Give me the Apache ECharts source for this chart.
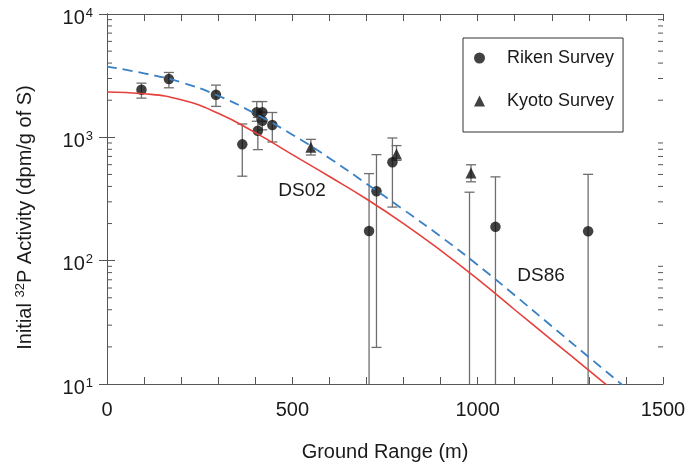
<!DOCTYPE html>
<html>
<head>
<meta charset="utf-8">
<script src="https://cdn.jsdelivr.net/npm/echarts@6/dist/echarts.min.js"></script>
<style>
  html, body { margin: 0; padding: 0; background: #fff; }
  #chart { width: 690px; height: 467px; }
</style>
</head>
<body>
<div id="chart"></div>
<script>
// Riken survey: ground range (m), initial 32P activity and error limits (dpm/g of S).
// A low limit of 0 means the bar runs off the bottom of the log axis;
// a null activity is a measurement below the plotted range.
const rikenRange    = [93, 167, 294, 365, 404, 407, 419, 419, 446, 707, 727, 770, 978, 1048, 1298];
const rikenActivity = [2430, 2965, 2213, 877, 1600, 1130, 1600, 1364, 1259, 174, 366, 628, null, 188, 173];
const rikenLow      = [2080, 2521, 1782, 484, 1350, 795, 1350, 1150, 917, 0, 19.8, 272, 0, 0, 0];
const rikenHigh     = [2750, 3357, 2650, 1283, 1950, 1450, 1950, 1600, 1590, 508, 724, 988, 359, 478, 501];

// Kyoto survey
const kyotoRange    = [550, 781, 982];
const kyotoActivity = [830, 733, 515];
const kyotoLow      = [719, 650, 436];
const kyotoHigh     = [963, 857, 599];

// Calculated activity versus ground range for the two dosimetry systems
const modelRange = [0, 100, 200, 300, 400, 500, 600, 700, 800, 900, 1000, 1100, 1200, 1300, 1400];
const ds02 = [2328, 2255, 2017, 1568, 1091, 724, 481, 316, 200, 121, 70.7, 40.0, 22.7, 12.9, 7.3];
const ds86 = [3749, 3303, 2794, 2173, 1554, 1051, 678, 421, 259, 157, 92.2, 52.4, 29.4, 16.5, 9.3];

// Axis labels
const xLabelValues = [0, 500, 1000, 1500];
const yDecades     = [10, 100, 1000, 10000];
const yExponents   = ['1', '2', '3', '4'];

const FONT = '"Liberation Sans", Arial, Helvetica, sans-serif';
const INK = '#1a1a1a';
const FRAME = '#555';
const BAR = '#6e6e6e';

// unlabelled log-axis minor ticks (2..9 in each decade)
const minorTicks = [];
for (let d = 10; d < 10000; d *= 10) {
  for (let k = 2; k <= 9; k++) minorTicks.push(k * d);
}

const errorData = rikenRange.map((x, i) => [x, rikenLow[i], rikenHigh[i]])
  .concat(kyotoRange.map((x, i) => [x, kyotoLow[i], kyotoHigh[i]]));

function renderErrorBar(params, api) {
  const cs = params.coordSys;
  const bottom = cs.y + cs.height;
  const x = api.value(0);
  const lo = api.value(1);
  const hi = api.value(2);
  const top = api.coord([x, hi]);
  let yLo;
  let capLo = true;
  if (!(lo > 0)) { yLo = bottom; capLo = false; }
  else {
    yLo = api.coord([x, lo])[1];
    if (yLo > bottom) { yLo = bottom; capLo = false; }
  }
  const px = top[0];
  const yHi = Math.max(top[1], cs.y);
  const half = 5;
  const style = { stroke: BAR, lineWidth: 1.3 };
  const children = [
    { type: 'line', shape: { x1: px, y1: yHi, x2: px, y2: yLo }, style }
  ];
  children.push({ type: 'line', shape: { x1: px - half, y1: yHi, x2: px + half, y2: yHi }, style });
  if (capLo) children.push({ type: 'line', shape: { x1: px - half, y1: yLo, x2: px + half, y2: yLo }, style });
  return { type: 'group', children };
}

function renderMinorTick(params, api) {
  const cs = params.coordSys;
  const y = api.coord([0, api.value(0)])[1];
  const style = { stroke: FRAME, lineWidth: 1 };
  const len = 5;
  return {
    type: 'group',
    children: [
      { type: 'line', shape: { x1: cs.x, y1: y, x2: cs.x + len, y2: y }, style },
      { type: 'line', shape: { x1: cs.x + cs.width - len, y1: y, x2: cs.x + cs.width, y2: y }, style }
    ]
  };
}

const chart = echarts.init(document.getElementById('chart'), null, { renderer: 'canvas' });

const xBase = {
  type: 'value', min: 0, max: 1500, interval: 100,
  axisLine: { show: true, lineStyle: { color: FRAME, width: 1 } },
  axisTick: { show: true, inside: true, length: 7, lineStyle: { color: FRAME } },
  splitLine: { show: false }
};
const yBase = {
  type: 'log', logBase: 10, min: 10, max: 10000,
  axisLine: { show: true, lineStyle: { color: FRAME, width: 1 } },
  axisTick: { show: true, inside: true, length: 8, lineStyle: { color: FRAME } },
  splitLine: { show: false },
  minorTick: { show: false }
};

chart.setOption({
  animation: false,
  backgroundColor: '#fff',
  textStyle: { fontFamily: FONT, color: INK },
  grid: { left: 107, right: 27, top: 14, bottom: 82, containLabel: false },
  legend: {
    orient: 'vertical',
    left: 463, top: 38,
    data: ['Riken Survey', 'Kyoto Survey'],
    itemWidth: 11, itemHeight: 11,
    itemGap: 23,
    padding: [10, 9, 21, 11],
    borderColor: '#333', borderWidth: 1,
    backgroundColor: '#fff',
    textStyle: { fontFamily: FONT, fontSize: 18, color: INK, lineHeight: 20, padding: [0, 0, 0, 17] }
  },
  xAxis: [
    Object.assign({}, xBase, {
      position: 'bottom',
      name: 'Ground Range (m)', nameLocation: 'middle', nameGap: 58,
      nameTextStyle: { fontFamily: FONT, fontSize: 20, color: INK },
      axisLabel: {
        show: true, interval: 0, margin: 16,
        fontFamily: FONT, fontSize: 20, color: INK,
        formatter: v => (xLabelValues.indexOf(v) >= 0 ? String(v) : '')
      }
    }),
    Object.assign({}, xBase, { position: 'top', axisLabel: { show: false } })
  ],
  yAxis: [
    Object.assign({}, yBase, {
      position: 'left',
      name: '{t|Initial }{s|32}{t|P Activity (dpm/g of S)}',
      nameLocation: 'middle', nameGap: 71, nameRotate: 90,
      nameTextStyle: {
        fontFamily: FONT, fontSize: 20, color: INK, padding: [0, 37, 0, 0],
        rich: {
          t: { fontFamily: FONT, fontSize: 20, color: INK },
          s: { fontFamily: FONT, fontSize: 13, color: INK, padding: [0, 0, 9, 0] }
        }
      },
      axisLabel: {
        show: true, margin: 14,
        formatter: v => {
          const i = yDecades.findIndex(d => Math.abs(d - v) / d < 1e-6);
          return i >= 0 ? '{b|10}{s|' + yExponents[i] + '}' : '';
        },
        rich: {
          b: { fontFamily: FONT, fontSize: 20, color: INK, padding: [8, 0, 0, 0] },
          s: { fontFamily: FONT, fontSize: 13, color: INK, padding: [0, 0, 2, 1] }
        }
      }
    }),
    Object.assign({}, yBase, { position: 'right', axisLabel: { show: false } })
  ],
  graphic: [
    { type: 'text', x: 302, y: 191, z: 10,
      style: { text: 'DS02', font: '19px ' + FONT, fill: INK, align: 'center', verticalAlign: 'middle', textAlign: 'center', textVerticalAlign: 'middle' } },
    { type: 'text', x: 541, y: 276, z: 10,
      style: { text: 'DS86', font: '19px ' + FONT, fill: INK, align: 'center', verticalAlign: 'middle', textAlign: 'center', textVerticalAlign: 'middle' } }
  ],
  series: [
    {
      name: 'minor ticks', type: 'custom', xAxisIndex: 0, yAxisIndex: 0,
      renderItem: renderMinorTick, data: minorTicks.map(v => [v]),
      encode: { y: 0 }, silent: true, z: 1
    },
    {
      name: 'error bars', type: 'custom', xAxisIndex: 0, yAxisIndex: 0,
      renderItem: renderErrorBar, data: errorData,
      encode: { x: 0, y: [1, 2] }, silent: true, z: 2
    },
    {
      name: 'Riken Survey', type: 'scatter', symbol: 'circle', symbolSize: 10.5,
      itemStyle: { color: '#111' }, z: 3, clip: true,
      data: rikenRange.map((x, i) => [x, rikenActivity[i] === null ? '-' : rikenActivity[i]])
    },
    {
      name: 'Kyoto Survey', type: 'scatter', symbol: 'triangle', symbolSize: 11,
      itemStyle: { color: '#111' }, z: 3, clip: true,
      data: kyotoRange.map((x, i) => [x, kyotoActivity[i]])
    },
    {
      name: 'DS02', type: 'line', showSymbol: false, symbol: 'none', smooth: 0.5, clip: true,
      lineStyle: { color: '#e6403b', width: 1.6 }, z: 4,
      data: modelRange.map((x, i) => [x, ds02[i]])
    },
    {
      name: 'DS86', type: 'line', showSymbol: false, symbol: 'none', smooth: 0.5, clip: true,
      lineStyle: { color: '#3a80c4', width: 1.8, type: [10, 6] }, z: 4,
      data: modelRange.map((x, i) => [x, ds86[i]])
    }
  ]
});
</script>
</body>
</html>
